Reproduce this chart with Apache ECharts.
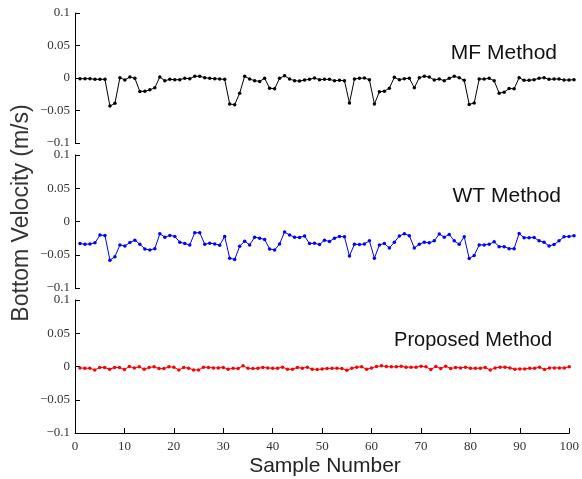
<!DOCTYPE html>
<html>
<head>
<meta charset="utf-8">
<script src="https://cdn.jsdelivr.net/npm/echarts@6/dist/echarts.min.js"></script>
<style>html,body{margin:0;padding:0;background:#fff}#c{width:582px;height:479px}</style>
</head>
<body>
<div id="c"></div>
<script>
var xTicks = [0,10,20,30,40,50,60,70,80,90,100];
var yTicks = [-0.1,-0.05,0,0.05,0.1];
var panelLabels = ['MF Method','WT Method','Proposed Method'];

var mf = [-0.001,-0.001,-0.001,-0.002,-0.002,-0.002,-0.0432,-0.039,0.0005,-0.003,
0.0016,-0.0005,-0.0208,-0.0203,-0.0182,-0.0151,0.0016,-0.0042,-0.0021,-0.0026,
-0.0026,-0.0005,-0.001,0.0026,0.0026,0.0005,-0.0005,-0.001,-0.0016,-0.0021,
-0.040,-0.0411,-0.0234,0.0026,-0.0016,-0.0042,-0.0052,-0.0005,-0.0156,-0.0166,
-0.0005,0.0036,-0.0016,-0.0042,-0.0047,-0.0031,-0.0021,0,-0.0026,-0.0021,
-0.0021,-0.0042,-0.0036,-0.0042,-0.0385,-0.0016,-0.0005,0,-0.0026,-0.040,
-0.0213,-0.0203,-0.0156,0.001,-0.0026,-0.001,-0.0005,-0.0151,0.0005,0.0026,
0.0016,-0.0031,-0.0016,-0.0042,-0.0005,0.0026,0.0005,-0.0036,-0.0406,-0.0385,
-0.0016,-0.0016,-0.0005,-0.0042,-0.0234,-0.0218,-0.0161,-0.0166,0.0005,-0.0036,
-0.0036,-0.0026,-0.0005,0.0005,-0.0021,-0.0016,-0.0016,-0.0031,-0.0031,-0.0026];

var wt = [-0.0332,-0.0342,-0.0337,-0.0321,-0.0204,-0.0209,-0.0582,-0.0530,-0.0352,-0.0367,
-0.0316,-0.0281,-0.0342,-0.0413,-0.0428,-0.0408,-0.0184,-0.0235,-0.0209,-0.0224,
-0.0311,-0.0332,-0.0352,-0.0168,-0.0168,-0.0342,-0.0326,-0.0337,-0.0357,-0.0224,
-0.0551,-0.0571,-0.0372,-0.0296,-0.0352,-0.0235,-0.025,-0.027,-0.0413,-0.0428,
-0.0337,-0.0158,-0.0204,-0.0235,-0.024,-0.0219,-0.0332,-0.0326,-0.0347,-0.0281,
-0.0301,-0.025,-0.0224,-0.023,-0.052,-0.0342,-0.0347,-0.0337,-0.0291,-0.0551,
-0.0352,-0.0332,-0.0398,-0.0311,-0.0219,-0.0184,-0.0214,-0.0398,-0.0342,-0.0311,
-0.0321,-0.0291,-0.0189,-0.0235,-0.0194,-0.0291,-0.0342,-0.023,-0.0556,-0.051,
-0.0352,-0.0352,-0.0342,-0.0306,-0.0378,-0.0378,-0.0408,-0.0408,-0.0179,-0.0245,
-0.0245,-0.024,-0.0291,-0.0311,-0.0367,-0.0347,-0.0291,-0.023,-0.0224,-0.0214];

var proposed = [-0.0021,-0.0026,-0.0026,-0.0051,-0.0015,-0.0015,-0.0041,-0.0015,-0.0015,-0.0046,
0,-0.0021,-0.0005,-0.0041,-0.0015,-0.0005,-0.0031,-0.0031,-0.0005,-0.001,
-0.0051,-0.0015,-0.0026,-0.0051,-0.0051,-0.001,-0.0015,-0.0021,-0.0021,-0.0015,
-0.0041,-0.0026,-0.0031,0.001,-0.0026,-0.0031,-0.0026,-0.0015,-0.0021,-0.0026,
-0.0026,-0.001,-0.0041,-0.0041,-0.0015,-0.0026,-0.001,-0.0041,-0.0046,-0.0036,
-0.0031,-0.0026,-0.0026,-0.0031,-0.0056,-0.0026,-0.001,-0.0005,-0.0041,-0.0021,
0,0.001,0,-0.0005,-0.0005,0.0005,-0.001,-0.001,-0.001,0.0005,
-0.0005,-0.0046,0,-0.0031,0.0005,-0.0031,-0.0015,-0.0021,-0.001,-0.0026,
-0.0026,-0.0026,-0.0015,-0.0051,-0.0021,-0.001,-0.001,-0.0021,-0.0041,-0.0036,
-0.0036,-0.0026,-0.0026,-0.001,-0.0046,-0.0021,-0.0021,-0.0021,-0.0021,-0.0005];

function pairs(arr){ return arr.map(function(v,i){ return [i+1, v]; }); }

var serif = '"Liberation Serif", "DejaVu Serif", serif';
var sans = '"Liberation Sans", Arial, sans-serif';

function fmtY(v){
  var r = Math.round(v*100)/100;
  if (Math.abs(r) < 1e-9) return '0';
  var s = String(Math.abs(r));
  return (r < 0 ? '\u2212' : '') + s;
}

var grids = [
  {left:75, width:499, top:13, height:130},
  {left:75, width:499, top:155, height:133},
  {left:75, width:499, top:300, height:133}
];

var xAxes = grids.map(function(g, i){
  var last = (i === 2);
  return {
    gridIndex:i, type:'value', min:xTicks[0], max:xTicks[xTicks.length-1], interval:10,
    show:true,
    axisLine:{show:last, onZero:false, lineStyle:{color:'#000', width:1}},
    axisTick:{show:last, inside:true, length:5, lineStyle:{color:'#000'}},
    axisLabel:{show:last, fontFamily:serif, fontSize:13, color:'#333', margin:7},
    splitLine:{show:false}
  };
});

var yAxes = grids.map(function(g, i){
  return {
    gridIndex:i, type:'value', min:yTicks[0], max:yTicks[yTicks.length-1], interval:0.05,
    axisLine:{show:true, lineStyle:{color:'#000', width:1}},
    axisTick:{show:true, inside:true, length:5, lineStyle:{color:'#000'}},
    axisLabel:{fontFamily:serif, fontSize:13, color:'#333', margin:5, formatter:fmtY},
    splitLine:{show:false}
  };
});

var colors = ['#000000','#0000ff','#ff0000'];
var datas = [mf, wt, proposed];
var series = datas.map(function(d, i){
  return {
    type:'line', xAxisIndex:i, yAxisIndex:i, data:pairs(d),
    symbol:'circle', symbolSize:3.5, showSymbol:true,
    lineStyle:{color:colors[i], width:1},
    itemStyle:{color:colors[i]},
    animation:false, silent:true
  };
});

var labelPos = [[557,53],[561,196],[552,340]];
var labelSizes = [21, 21, 20];
var graphics = panelLabels.map(function(t, i){
  return {type:'text', x:labelPos[i][0], y:labelPos[i][1],
    style:{text:t, font:labelSizes[i] + 'px ' + sans, fill:'#111', textAlign:'right', textVerticalAlign:'middle'}};
});
graphics.push({type:'text', x:22, y:213, rotation:Math.PI/2,
  style:{text:'Bottom Velocity (m/s)', font:'23px ' + sans, fill:'#333', textAlign:'center', textVerticalAlign:'middle'}});
graphics.push({type:'text', x:325, y:466,
  style:{text:'Sample Number', font:'21px ' + sans, fill:'#222', textAlign:'center', textVerticalAlign:'middle'}});

var chart = echarts.init(document.getElementById('c'), null, {renderer:'canvas'});
chart.setOption({
  animation:false,
  backgroundColor:'#fff',
  grid:grids, xAxis:xAxes, yAxis:yAxes, series:series, graphic:graphics
});
</script>
</body>
</html>
